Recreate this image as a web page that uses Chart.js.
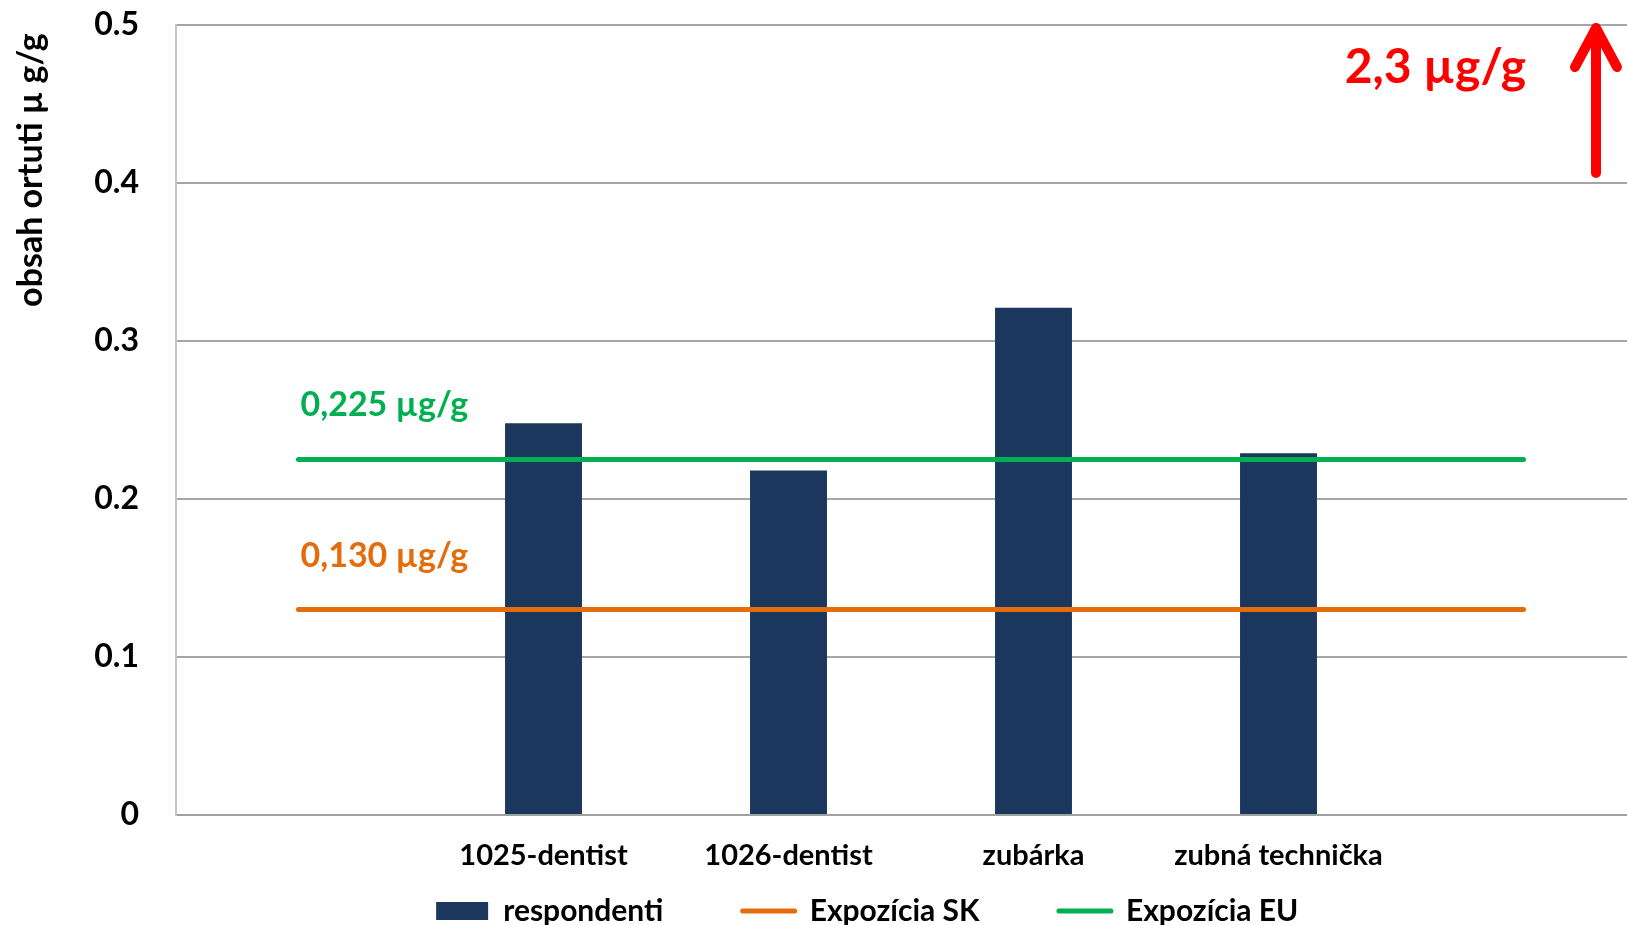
<!DOCTYPE html>
<html lang="sk">
<head>
<meta charset="utf-8">
<title>Obsah ortuti</title>
<script src="https://cdn.jsdelivr.net/npm/chart.js@4.4.1/dist/chart.umd.min.js"></script>
<style>
  html, body { margin: 0; padding: 0; background: #fff; overflow: hidden; }
  #obal { width: 1736px; height: 925px; }
</style>
</head>
<body>
<div id="obal"><canvas id="graf"></canvas></div>
<script>
// údaje z grafu
const kategorie = ["", "1025-dentist", "1026-dentist", "zubárka", "zubná technička", ""];
const respondenti = [null, 0.248, 0.218, 0.321, 0.229, null];
const expoziciaSK = [0.13, 0.13, 0.13, 0.13, 0.13, 0.13];
const expoziciaEU = [0.225, 0.225, 0.225, 0.225, 0.225, 0.225];
const yTicky = [0, 0.1, 0.2, 0.3, 0.4, 0.5];
const popisSK = "0,130 µg/g";
const popisEU = "0,225 µg/g";
const popisMax = "2,3 µg/g";

Chart.defaults.font.family = "Lato";
Chart.defaults.font.weight = "bold";
Chart.defaults.color = "#000";

// texty nad čiarami a červená šípka
const popisky = {
  id: "popisky",
  afterDatasetsDraw(chart) {
    const { ctx, chartArea, scales: { x, y } } = chart;
    const x0 = x.getPixelForValue(0);
    ctx.save();
    ctx.textBaseline = "middle";
    ctx.textAlign = "left";
    ctx.font = "bold 34px Lato";
    ctx.fillStyle = "#00b050";
    ctx.fillText(popisEU, x0 + 2, y.getPixelForValue(expoziciaEU[0]) - 54);
    ctx.fillStyle = "#e46c0a";
    ctx.fillText(popisSK, x0 + 2, y.getPixelForValue(expoziciaSK[0]) - 54);

    ctx.fillStyle = "#ff0000";
    ctx.font = "bold 48px Lato";
    ctx.textAlign = "right";
    ctx.fillText(popisMax, chartArea.right - 120, chartArea.top + 43);

    const ax = chartArea.right - 50;
    const top = chartArea.top + 3;
    ctx.strokeStyle = "#ff0000";
    ctx.lineWidth = 10;
    ctx.lineCap = "round";
    ctx.lineJoin = "round";
    ctx.beginPath();
    ctx.moveTo(ax, chartArea.top + 148);
    ctx.lineTo(ax, top);
    ctx.moveTo(ax - 21, top + 39);
    ctx.lineTo(ax, top);
    ctx.lineTo(ax + 21, top + 39);
    ctx.stroke();
    ctx.restore();
  }
};

new Chart(document.getElementById("graf"), {
  type: "bar",
  data: {
    labels: kategorie,
    datasets: [
      {
        label: "respondenti",
        data: respondenti,
        backgroundColor: "#1b375e",
        borderColor: "#1b375e",
        barPercentage: 0.314,
        categoryPercentage: 1,
        order: 2
      },
      {
        type: "line",
        label: "Expozícia SK",
        data: expoziciaSK,
        borderColor: "#e46c0a",
        backgroundColor: "#e46c0a",
        borderWidth: 5,
        borderCapStyle: "round",
        pointRadius: 0,
        fill: false,
        order: 1
      },
      {
        type: "line",
        label: "Expozícia EU",
        data: expoziciaEU,
        borderColor: "#00b050",
        backgroundColor: "#00b050",
        borderWidth: 5,
        borderCapStyle: "round",
        pointRadius: 0,
        fill: false,
        order: 0
      }
    ]
  },
  options: {
    responsive: true,
    maintainAspectRatio: false,
    animation: false,
    layout: { padding: { top: 25, right: 90, left: 0, bottom: -11 } },
    plugins: {
      tooltip: { enabled: false },
      legend: {
        position: "bottom",
        fullSize: false,
        labels: {
          usePointStyle: true,
          pointStyleWidth: 52,
          boxHeight: 18,
          padding: 21,
          font: { size: 30, weight: "bold" },
          // medzery za textom robia väčší odstup medzi položkami a posúvajú legendu doľava
          generateLabels: chart => chart.data.datasets.map((ds, i, all) => ({
            text: ds.label + " ".repeat(i < all.length - 1 ? 8 : 12),
            fillStyle: ds.backgroundColor,
            strokeStyle: ds.borderColor,
            lineWidth: i === 0 ? 0 : 5,
            lineCap: "round",
            pointStyle: i === 0 ? "rect" : "line",
            datasetIndex: i,
            hidden: false
          }))
        }
      }
    },
    scales: {
      x: {
        grid: { display: false },
        border: { color: "#a0a0a0", width: 2 },
        ticks: { padding: 15, font: { size: 29 }, maxRotation: 0, autoSkip: false },
        afterFit: s => { s.height = 60; }
      },
      y: {
        min: 0,
        max: 0.5,
        afterBuildTicks: s => { s.ticks = yTicky.map(v => ({ value: v })); },
        ticks: { padding: 0, font: { size: 32 }, callback: v => String(v) },
        grid: { color: "#a6a6a6", lineWidth: 2, drawTicks: true, tickLength: 37, tickColor: "rgba(0,0,0,0)" },
        border: { color: "#c4c4c4", width: 2 },
        title: {
          display: true,
          text: "obsah ortuti µ g/g ",
          align: "end",
          font: { size: 34, weight: "bold" },
          padding: { top: 11, bottom: 0 }
        },
        afterFit: s => { s.width = 176; }
      }
    }
  },
  plugins: [popisky]
});
</script>
</body>
</html>
